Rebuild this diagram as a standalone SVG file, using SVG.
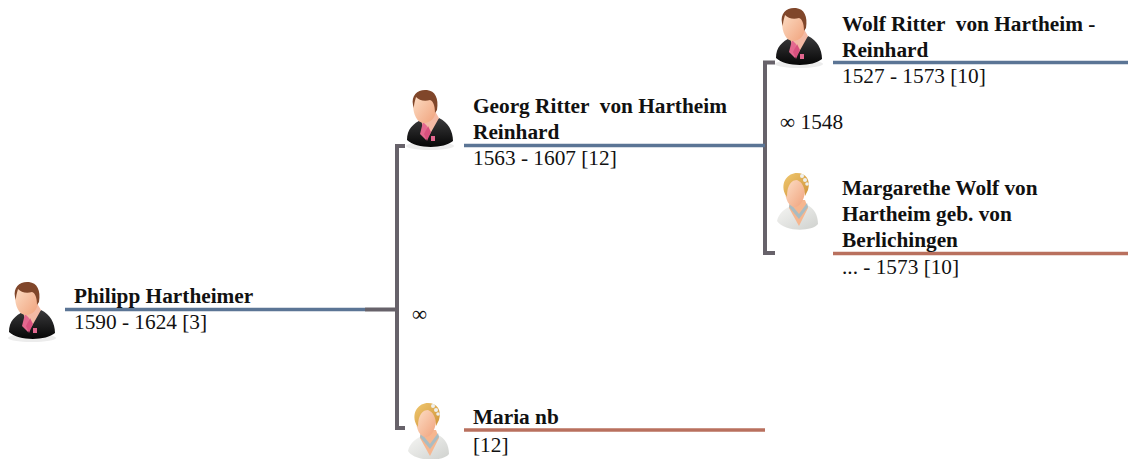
<svg xmlns="http://www.w3.org/2000/svg" width="1128" height="459" viewBox="0 0 1128 459">
<style>
text{font-family:"Liberation Serif","Times New Roman",serif;font-size:21.300px;fill:#111}
.n{font-weight:bold}
.b{stroke:#5b7595;stroke-width:3.500;fill:none}
.r{stroke:#b9705e;stroke-width:3.500;fill:none}
.g{stroke:#67626a;stroke-width:4;fill:none}
</style>
<defs>
<linearGradient id="skin" x1="0" y1="0" x2="1" y2="1"><stop offset="0" stop-color="#fde0c8"/><stop offset="1" stop-color="#f0a27c"/></linearGradient>
<linearGradient id="suit" x1="0" y1="0" x2="0" y2="1"><stop offset="0" stop-color="#3a3a3c"/><stop offset="1" stop-color="#060606"/></linearGradient>
<linearGradient id="dress" x1="0" y1="0" x2="1" y2="1"><stop offset="0" stop-color="#f6f6f4"/><stop offset="1" stop-color="#cfd1ce"/></linearGradient>
<linearGradient id="hair" x1="0" y1="0" x2="1" y2="1"><stop offset="0" stop-color="#f0c870"/><stop offset="1" stop-color="#cf9238"/></linearGradient>
<g id="man">
<ellipse cx="32" cy="338" rx="24" ry="4" fill="#ececec"/>
<path d="M9 332C9 321 15 316 24 311L32 318L41 310C50 314 55 323 55 333C46 341 18 341 9 332Z" fill="url(#suit)"/>
<path d="M22 308L27 305L38 305L41 310L32 326L28 331Z" fill="#f3b9a4"/>
<path d="M25 314L29 318L28 332L22 326Z" fill="#e4688f"/>
<path d="M30 318L26 326L29 333L33 324Z" fill="#d9517f"/>
<rect x="33" y="328" width="4" height="5" fill="#e2678f"/>
<path d="M15 296C15 286 24 284 29 285C36 286 38 293 38 301C38 310 32 315 26 315C19 315 15 306 15 296Z" fill="url(#skin)"/>
<path d="M15 297C13 287 20 281 29 282C37 283 41 290 39 302L37 305C37 297 35 293 32 292C26 294 21 292 18 289C17 293 16 295 16 300Z" fill="#80462a"/>
</g>
<g id="woman">
<path d="M777 221C779 212 786 208 793 205L799 214L807 205C814 208 818 215 818 224C812 232 784 232 777 221Z" fill="url(#dress)"/>
<path d="M790 200L805 200L808 208L799 226L789 208Z" fill="#f6b68f"/>
<path d="M790 203L799 214L807 203L808 207L799 219L789 207Z" fill="#a9bcc2"/>
<path d="M785 190C785 181 791 178 796 179C802 180 805 185 805 192C804 201 799 207 795 207C789 207 785 199 785 190Z" fill="url(#skin)"/>
<path d="M785 194C780 182 788 173 797 173C806 173 811 180 808 190L805 196C805 187 802 182 797 180C792 180 787 184 787 197Z" fill="url(#hair)"/>
<circle cx="802" cy="176" r="2" fill="#eef0ef"/><circle cx="805" cy="180" r="2" fill="#eef0ef"/><circle cx="807" cy="184" r="1.800" fill="#eef0ef"/>
</g>
</defs>
<g id="connectors">
<path class="g" d="M365 309.500H397M405 146H397V428H405"/>
<path class="g" d="M765 146V62.500H775M765 146V253H775"/>
</g>
<g id="philipp">
<use href="#man"/>
<path class="b" d="M65 309.500H365"/>
<text class="n" x="74" y="303">Philipp Hartheimer</text>
<text x="74" y="329">1590 - 1624 [3]</text>
</g>
<g id="georg">
<use href="#man" x="398" y="-192"/>
<path class="b" d="M464 145.500H765"/>
<text class="n" x="473" y="113" xml:space="preserve">Georg Ritter  von Hartheim</text>
<text class="n" x="473" y="139">Reinhard</text>
<text x="473" y="165">1563 - 1607 [12]</text>
</g>
<g id="maria">
<use href="#woman" x="-369" y="230"/>
<path class="r" d="M464 430H765"/>
<text class="n" x="473" y="424">Maria nb</text>
<text x="473" y="452">[12]</text>
</g>
<g id="wolf">
<use href="#man" x="767" y="-274"/>
<path class="b" d="M833 62.500H1128"/>
<text class="n" x="842" y="31" xml:space="preserve">Wolf Ritter  von Hartheim -</text>
<text class="n" x="842" y="57">Reinhard</text>
<text x="842" y="83">1527 - 1573 [10]</text>
</g>
<g id="margarethe">
<use href="#woman"/>
<path class="r" d="M833 253.500H1128"/>
<text class="n" x="842" y="195">Margarethe Wolf von</text>
<text class="n" x="842" y="221">Hartheim geb. von</text>
<text class="n" x="842" y="247">Berlichingen</text>
<text x="842" y="274">... - 1573 [10]</text>
</g>
<text id="m1" x="412" y="321">∞</text>
<text id="m2" x="780" y="129">∞ 1548</text>
</svg>
